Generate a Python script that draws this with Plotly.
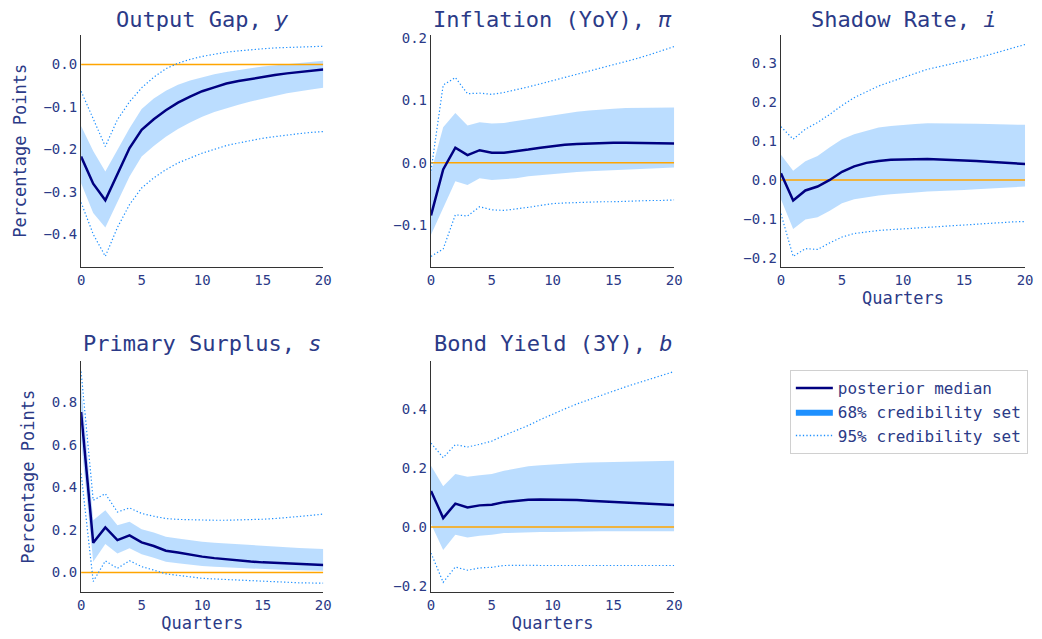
import plotly.graph_objects as go

QUARTERS = list(range(21))

TITLES = ["Output Gap, <i>y</i>", "Inflation (YoY), <i>π</i>", "Shadow Rate, <i>i</i>",
          "Primary Surplus, <i>s</i>", "Bond Yield (3Y), <i>b</i>"]

# Output gap
y_med = [-0.217,-0.281,-0.320,-0.258,-0.197,-0.154,-0.129,-0.108,-0.090,-0.076,-0.063,-0.054,-0.045,-0.039,-0.034,-0.030,-0.025,-0.021,-0.018,-0.015,-0.012]
y_up68 = [-0.145,-0.204,-0.252,-0.200,-0.150,-0.105,-0.080,-0.062,-0.048,-0.038,-0.030,-0.023,-0.018,-0.013,-0.009,-0.005,-0.002,0.001,0.004,0.007,0.009]
y_lo68 = [-0.280,-0.350,-0.384,-0.322,-0.264,-0.217,-0.192,-0.170,-0.152,-0.137,-0.123,-0.112,-0.103,-0.095,-0.087,-0.080,-0.074,-0.068,-0.063,-0.059,-0.055]
y_up95 = [-0.063,-0.127,-0.193,-0.130,-0.088,-0.055,-0.030,-0.010,0.003,0.012,0.019,0.024,0.029,0.032,0.035,0.037,0.039,0.040,0.041,0.042,0.043]
y_lo95 = [-0.325,-0.400,-0.452,-0.384,-0.330,-0.291,-0.267,-0.248,-0.232,-0.220,-0.209,-0.200,-0.191,-0.185,-0.179,-0.174,-0.170,-0.166,-0.163,-0.160,-0.158]

# Inflation
pi_med = [-0.085,-0.011,0.024,0.012,0.020,0.016,0.016,0.018,0.021,0.024,0.027,0.029,0.030,0.031,0.032,0.032,0.032,0.032,0.032,0.032,0.031]
pi_up68 = [-0.015,0.057,0.080,0.060,0.065,0.063,0.064,0.067,0.070,0.074,0.077,0.080,0.082,0.084,0.086,0.087,0.088,0.088,0.089,0.089,0.089]
pi_lo68 = [-0.116,-0.072,-0.030,-0.036,-0.025,-0.028,-0.027,-0.025,-0.022,-0.020,-0.018,-0.016,-0.015,-0.014,-0.013,-0.012,-0.011,-0.010,-0.009,-0.009,-0.008]
pi_up95 = [-0.013,0.125,0.137,0.111,0.112,0.110,0.113,0.117,0.122,0.127,0.132,0.137,0.142,0.147,0.152,0.157,0.162,0.168,0.174,0.180,0.187]
pi_lo95 = [-0.151,-0.139,-0.084,-0.086,-0.071,-0.076,-0.077,-0.075,-0.072,-0.069,-0.066,-0.065,-0.064,-0.064,-0.063,-0.063,-0.062,-0.062,-0.061,-0.061,-0.060]

# Shadow rate
i_med = [0.017,-0.053,-0.027,-0.017,0.000,0.021,0.035,0.044,0.049,0.052,0.053,0.054,0.054,0.053,0.052,0.050,0.049,0.047,0.045,0.043,0.041]
i_up68 = [0.065,0.024,0.048,0.062,0.084,0.105,0.118,0.126,0.135,0.139,0.142,0.144,0.146,0.146,0.146,0.146,0.145,0.144,0.143,0.142,0.142]
i_lo68 = [-0.050,-0.126,-0.102,-0.096,-0.079,-0.060,-0.050,-0.044,-0.040,-0.037,-0.034,-0.032,-0.030,-0.029,-0.027,-0.026,-0.024,-0.022,-0.020,-0.018,-0.017]
i_up95 = [0.137,0.105,0.131,0.148,0.169,0.192,0.212,0.227,0.242,0.253,0.263,0.274,0.285,0.292,0.299,0.306,0.314,0.322,0.331,0.340,0.349]
i_lo95 = [-0.087,-0.197,-0.177,-0.179,-0.162,-0.147,-0.138,-0.134,-0.130,-0.128,-0.126,-0.123,-0.121,-0.119,-0.117,-0.115,-0.113,-0.111,-0.110,-0.108,-0.107]

# Primary surplus
s_med = [0.755,0.140,0.212,0.153,0.175,0.142,0.125,0.103,0.094,0.084,0.075,0.068,0.062,0.057,0.052,0.048,0.045,0.042,0.040,0.038,0.036]
s_up68 = [0.880,0.246,0.293,0.223,0.239,0.204,0.188,0.168,0.160,0.152,0.145,0.140,0.136,0.132,0.128,0.125,0.122,0.119,0.116,0.113,0.111]
s_lo68 = [0.620,0.051,0.134,0.090,0.114,0.086,0.070,0.051,0.044,0.037,0.031,0.027,0.024,0.021,0.018,0.016,0.014,0.012,0.011,0.010,0.009]
s_up95 = [0.945,0.340,0.371,0.285,0.304,0.278,0.265,0.254,0.250,0.248,0.246,0.246,0.246,0.247,0.249,0.251,0.254,0.258,0.263,0.269,0.275]
s_lo95 = [0.466,-0.042,0.055,0.020,0.056,0.028,0.012,-0.006,-0.013,-0.020,-0.027,-0.030,-0.033,-0.036,-0.039,-0.042,-0.044,-0.046,-0.048,-0.049,-0.050]

# Bond yield
b_med = [0.122,0.030,0.079,0.066,0.073,0.075,0.084,0.089,0.092,0.093,0.093,0.092,0.091,0.089,0.087,0.085,0.083,0.081,0.079,0.076,0.074]
b_up68 = [0.207,0.138,0.179,0.170,0.175,0.179,0.190,0.197,0.206,0.209,0.212,0.215,0.217,0.218,0.219,0.220,0.221,0.222,0.223,0.224,0.224]
b_lo68 = [0.010,-0.078,-0.027,-0.036,-0.030,-0.027,-0.021,-0.019,-0.018,-0.017,-0.017,-0.016,-0.016,-0.016,-0.015,-0.015,-0.015,-0.015,-0.015,-0.015,-0.015]
b_up95 = [0.284,0.235,0.279,0.271,0.280,0.291,0.310,0.327,0.344,0.364,0.383,0.400,0.417,0.432,0.447,0.462,0.475,0.488,0.501,0.514,0.527]
b_lo95 = [-0.089,-0.188,-0.136,-0.147,-0.139,-0.137,-0.131,-0.130,-0.130,-0.131,-0.131,-0.131,-0.131,-0.131,-0.131,-0.131,-0.131,-0.131,-0.131,-0.131,-0.131]

SERIES = [
    (y_med, y_lo68, y_up68, y_lo95, y_up95),
    (pi_med, pi_lo68, pi_up68, pi_lo95, pi_up95),
    (i_med, i_lo68, i_up68, i_lo95, i_up95),
    (s_med, s_lo68, s_up68, s_lo95, s_up95),
    (b_med, b_lo68, b_up68, b_lo95, b_up95),
]

Y_RANGES = [[-0.477, 0.070], [-0.168, 0.206], [-0.224, 0.374], [-0.093, 0.994], [-0.222, 0.562]]
Y_TICKS = [[-0.4, -0.3, -0.2, -0.1, 0.0], [-0.1, 0.0, 0.1, 0.2], [-0.2, -0.1, 0.0, 0.1, 0.2, 0.3],
           [0.0, 0.2, 0.4, 0.6, 0.8], [-0.2, 0.0, 0.2, 0.4]]
X_TICKS = [0, 5, 10, 15, 20]

W, H = 1042, 639
TXT = "#2b3a87"
FONT = "DejaVu Sans Mono"
MED_C = "#000080"
BAND_C = "rgba(30,144,255,0.30)"
CI_C = "#1E90FF"
ZERO_C = "#FFA500"
DOT = "1.3px,2.2px"

# pixel boxes for panels: (left, right, top, bottom)
BOXES = [(78, 323, 31, 265), (432, 678, 31, 265), (786, 1033, 31, 265),
         (78, 323, 360, 593), (432, 678, 360, 593)]
TITLE_Y = [16, 16, 16, 342, 342]
YLABEL = [True, False, False, True, False]
XLABEL = [False, False, True, True, True]

fig = go.Figure()
layout = dict()
annotations = []
for k, (med, lo68, up68, lo95, up95) in enumerate(SERIES):
    n = k + 1
    xa = "x" if n == 1 else f"x{n}"
    ya = "y" if n == 1 else f"y{n}"
    fig.add_trace(go.Scatter(x=QUARTERS, y=lo68, xaxis=xa, yaxis=ya, mode="lines",
                             line=dict(width=0, color=BAND_C), showlegend=False, hoverinfo="skip"))
    fig.add_trace(go.Scatter(x=QUARTERS, y=up68, xaxis=xa, yaxis=ya, mode="lines",
                             line=dict(width=0, color=BAND_C), fill="tonexty", fillcolor=BAND_C,
                             showlegend=False, hoverinfo="skip"))
    fig.add_trace(go.Scatter(x=[QUARTERS[0], QUARTERS[-1]], y=[0, 0], xaxis=xa, yaxis=ya, mode="lines",
                             line=dict(width=1.5, color=ZERO_C), showlegend=False, hoverinfo="skip"))
    fig.add_trace(go.Scatter(x=QUARTERS, y=up95, xaxis=xa, yaxis=ya, mode="lines",
                             line=dict(width=1.2, color=CI_C, dash=DOT), showlegend=False))
    fig.add_trace(go.Scatter(x=QUARTERS, y=lo95, xaxis=xa, yaxis=ya, mode="lines",
                             line=dict(width=1.2, color=CI_C, dash=DOT), showlegend=False))
    fig.add_trace(go.Scatter(x=QUARTERS, y=med, xaxis=xa, yaxis=ya, mode="lines",
                             line=dict(width=2.5, color=MED_C), showlegend=False))

    l, r, t, b = BOXES[k]
    xd = [l / W, r / W]
    yd = [1 - b / H, 1 - t / H]
    axis_common = dict(showline=True, linecolor="#333333", linewidth=1.3, showgrid=False,
                       zeroline=False, ticks="", mirror=False,
                       tickfont=dict(family=FONT, size=14, color=TXT))
    xkey = "xaxis" if n == 1 else f"xaxis{n}"
    ykey = "yaxis" if n == 1 else f"yaxis{n}"
    layout[xkey] = dict(axis_common, domain=xd, anchor=ya, range=[0, 20],
                        tickvals=X_TICKS,
                        title=dict(text="Quarters" if XLABEL[k] else "",
                                   font=dict(family=FONT, size=17, color=TXT), standoff=3))
    layout[ykey] = dict(axis_common, domain=yd, anchor=xa, range=Y_RANGES[k],
                        tickvals=Y_TICKS[k], tickformat=".1f",
                        title=dict(text="Percentage Points" if YLABEL[k] else "",
                                   font=dict(family=FONT, size=17, color=TXT), standoff=12))
    annotations.append(dict(text=TITLES[k], xref="paper", yref="paper",
                            x=(l + r) / 2 / W, y=1 - TITLE_Y[k] / H, xanchor="center", yanchor="middle",
                            showarrow=False, font=dict(family=FONT, size=22, color=TXT)))

# legend entries
fig.add_trace(go.Scatter(x=[None], y=[None], mode="lines", line=dict(width=2.5, color=MED_C),
                         name="posterior median"))
fig.add_trace(go.Scatter(x=[None], y=[None], mode="lines", fill="toself", fillcolor=CI_C,
                         line=dict(width=0, color=CI_C), name="68% credibility set"))
fig.add_trace(go.Scatter(x=[None], y=[None], mode="lines", line=dict(width=1.5, color=CI_C, dash=DOT),
                         name="95% credibility set"))

fig.update_layout(
    width=W, height=H, margin=dict(l=0, r=0, t=0, b=0),
    paper_bgcolor="white", plot_bgcolor="white",
    font=dict(family=FONT, color=TXT),
    annotations=annotations,
    legend=dict(x=795 / W, y=1 - 369 / H, xanchor="left", yanchor="top",
                bordercolor="#d0d0d0", borderwidth=1, bgcolor="white", traceorder="normal",
                itemwidth=37,
                font=dict(family=FONT, size=16, color=TXT), tracegroupgap=0),
    **layout,
)

fig.write_html("out.html")
